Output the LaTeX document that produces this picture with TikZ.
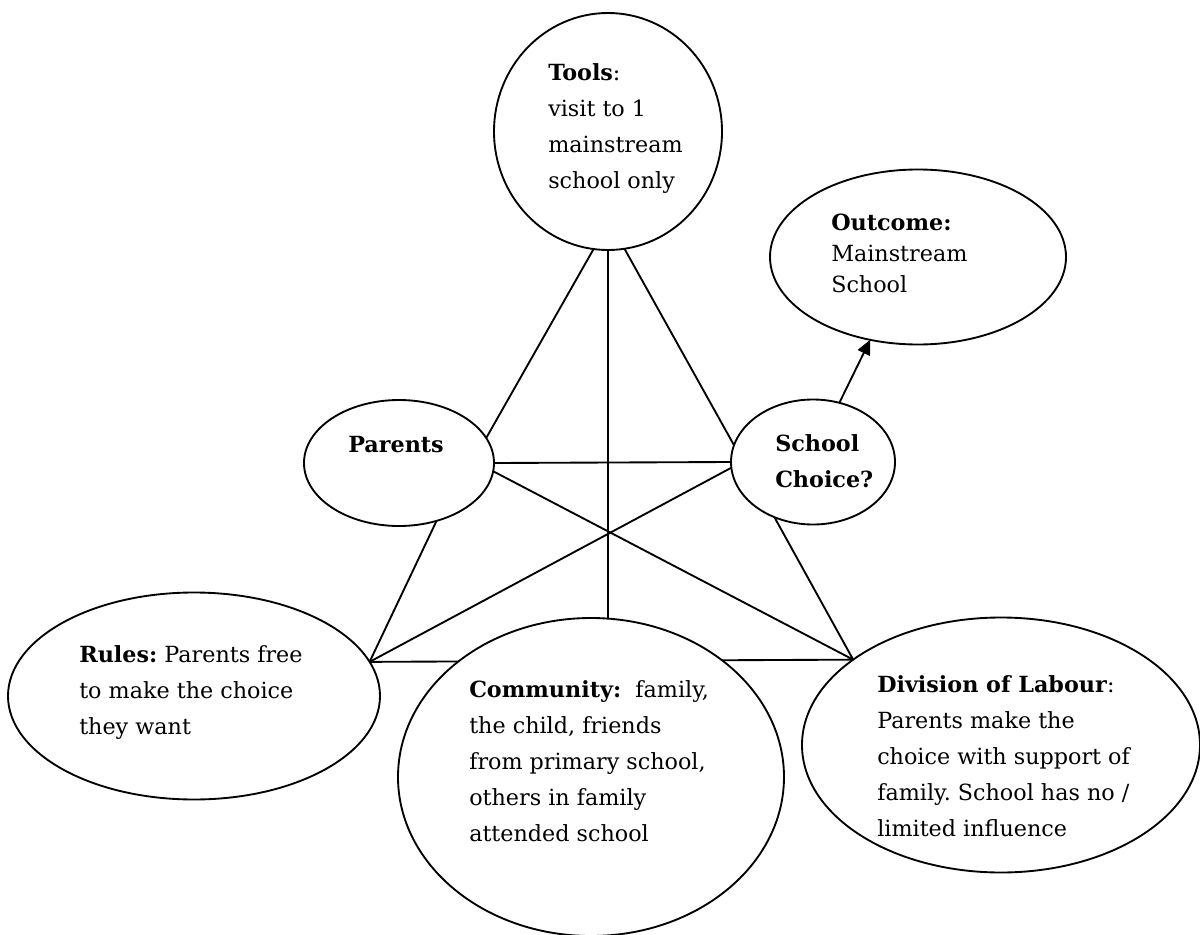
\documentclass[tikz,border=0pt]{standalone}
\usepackage{fontspec}
\setmainfont{DejaVu Serif}
\frenchspacing
\usetikzlibrary{shapes.geometric,arrows.meta,backgrounds}
\begin{document}
\begin{tikzpicture}[x=0.75pt,y=-0.75pt,
  ell/.style={draw,ellipse,fill=white,line width=1.4pt,inner sep=0pt,outer sep=0pt},
  lbl/.style={anchor=base west,inner sep=0pt,font=\fontsize{16.7}{27}\selectfont},
  conn/.style={line width=1.4pt}]
\useasboundingbox (0,0) rectangle (1200,935);
% ellipses
\node[ell,minimum width=171pt,minimum height=177.75pt] (tools) at (608,131.5) {};
\node[ell,minimum width=222pt,minimum height=131.25pt] (outcome) at (918,257) {};
\node[ell,minimum width=142.5pt,minimum height=94.5pt] (parents) at (399,463) {};
\node[ell,minimum width=123pt,minimum height=93.75pt] (school) at (813,462) {};
\node[ell,minimum width=279pt,minimum height=155.25pt] (rules) at (194,696) {};
\node[ell,minimum width=289.5pt,minimum height=238.5pt] (community) at (591,777) {};
\node[ell,minimum width=298.5pt,minimum height=191.25pt] (division) at (1001,745) {};
% texts
\node[lbl] (toolsT) at (548,80) {\begin{tabular}[t]{@{}l@{}}\textbf{Tools}:\\visit to 1\\mainstream\\school only\end{tabular}};
\node[lbl,font=\fontsize{16.7}{23.25}\selectfont] (outcomeT) at (831,230) {\begin{tabular}[t]{@{}l@{}}\textbf{Outcome:}\\Mainstream\\School\end{tabular}};
\node[lbl] (parentsT) at (348,452) {\textbf{Parents}};
\node[lbl] (schoolT) at (775,451) {\begin{tabular}[t]{@{}l@{}}\textbf{School}\\\textbf{Choice?}\end{tabular}};
\node[lbl] (rulesT) at (79,662) {\begin{tabular}[t]{@{}l@{}}\textbf{Rules:} Parents free\\to make the choice\\they want\end{tabular}};
\node[lbl] (communityT) at (469,697) {\begin{tabular}[t]{@{}l@{}}\textbf{Community:}\ \ family,\\the child, friends\\from primary school,\\others in family\\attended school\end{tabular}};
\node[lbl] (divisionT) at (877,692) {\begin{tabular}[t]{@{}l@{}}\textbf{Division of Labour}:\\Parents make the\\choice with support of\\family. School has no /\\limited influence\end{tabular}};
% connectors
\begin{scope}[on background layer]
\draw[conn] (tools.263) -- (parents.16);
\draw[conn] (tools.south) -- (tools.south |- community.north);
\draw[conn] (tools.278) -- (school.168);
\draw[conn] (parents.east) -- (school.west);
\draw[conn] (parents.-5) -- (division.150);
\draw[conn] (parents.-57) -- (rules.11);
\draw[conn] (school.184) -- (rules.11);
\draw[conn] (school.235) -- (division.150);
\draw[conn] (rules.11) -- (division.150);
\end{scope}
\draw[conn,-{Triangle[length=11pt,width=10pt]}] (school.66) -- (outcome.240);
\end{tikzpicture}
\end{document}
